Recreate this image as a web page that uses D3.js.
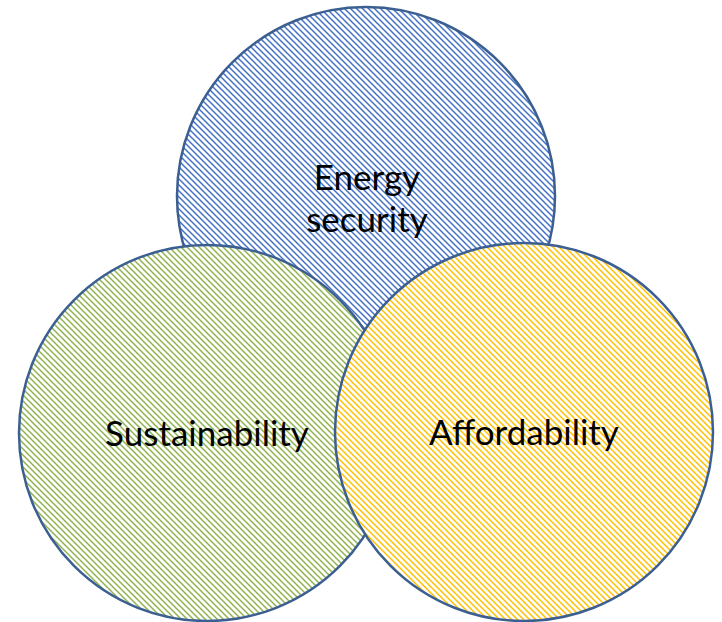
<!DOCTYPE html>
<html>
<head>
<meta charset="utf-8">
<script src="https://cdn.jsdelivr.net/npm/d3@7"></script>
<style>
  body { margin: 0; background: #fff; }
  text { font-family: Lato, "Open Sans", sans-serif; }
</style>
</head>
<body>
<div id="plot"></div>
<script>
// circles, in drawing order
var names = ["Energy security", "Sustainability", "Affordability"];
var labels = [["Energy", "security"], ["Sustainability"], ["Affordability"]];
var centerX = [366, 207, 524];
var centerY = [196, 433, 432];
var radius = [189, 188, 189];
var colors = ["#4472c4", "#8fb34f", "#ffc000"];

var width = 722, height = 622;

var svg = d3.select('#plot')
    .append('svg')
    .attr('width', width)
    .attr('height', height);

var defs = svg.append('defs');

// hatch patterns (downward diagonal)
colors.forEach(function (c, i) {
    var p = defs.append('pattern')
        .attr('id', 'hatch' + i)
        .attr('patternUnits', 'userSpaceOnUse')
        .attr('width', 6)
        .attr('height', 6);
    p.append('rect')
        .attr('width', 6).attr('height', 6)
        .attr('fill', '#fff');
    p.append('path')
        .attr('d', 'M-1,-1 L7,7 M-1,5 L1,7 M5,-1 L7,1')
        .attr('stroke', c)
        .attr('stroke-width', 1.5);
});

var data = names.map(function (n, i) {
    return {name: n, lines: labels[i], x: centerX[i], y: centerY[i], r: radius[i], i: i};
});

var node = svg.selectAll('.venn')
    .data(data)
    .enter()
    .append('g')
    .attr('class', 'venn');

node.append('circle')
    .attr('cx', function (d) { return d.x; })
    .attr('cy', function (d) { return d.y; })
    .attr('r', function (d) { return d.r; })
    .attr('fill', function (d) { return 'url(#hatch' + d.i + ')'; })
    .attr('stroke', '#3c5f92')
    .attr('stroke-width', 2.5);

node.append('text')
    .attr('text-anchor', 'middle')
    .attr('font-size', 35)
    .attr('fill', '#000')
    .each(function (d) {
        var t = d3.select(this);
        var y0 = d.i === 0 ? 190 : d.y + 13;
        d.lines.forEach(function (l, k) {
            t.append('tspan')
                .attr('x', d.x + (d.i === 0 ? 1 : 0))
                .attr('y', y0 + k * 42)
                .text(l);
        });
    });
</script>
</body>
</html>
